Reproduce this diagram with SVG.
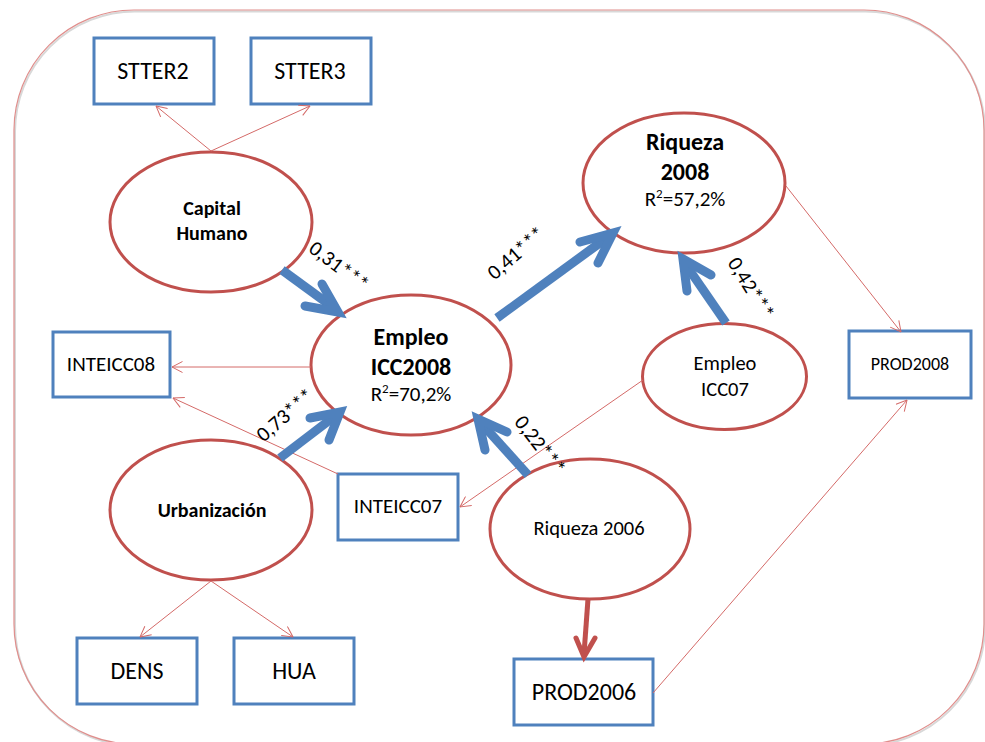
<svg xmlns="http://www.w3.org/2000/svg" width="985" height="742" viewBox="0 0 985 742">
<style>
  text { font-family: Carlito, "Liberation Sans", sans-serif; fill: #000; text-anchor: middle; }
  .box { fill: #fff; stroke: #4f81bd; stroke-width: 3; }
  .ell { fill: #fff; stroke: #c0504d; stroke-width: 3; }
  .thin { fill: none; stroke: #d46a68; stroke-width: 1; marker-end: url(#openhead); }
  .bshaft { fill: none; stroke: #4f81bd; stroke-width: 9; stroke-linecap: butt; }
  .bhead { fill: none; stroke: #4f81bd; stroke-width: 9; stroke-linecap: round; stroke-linejoin: miter; }
  .rshaft { fill: none; stroke: #c0504d; stroke-width: 5; }
  .rhead { fill: none; stroke: #c0504d; stroke-width: 5; stroke-linecap: round; stroke-linejoin: miter; }
  .b { font-weight: bold; }
  .lbl { font-size: 21px; }
</style>
<defs>
  <marker id="openhead" viewBox="0 0 12 12" refX="11.5" refY="6" markerWidth="12" markerHeight="12" markerUnits="userSpaceOnUse" orient="auto">
    <path d="M1,0.5 L11.5,6 L1,11.5" fill="none" stroke="#d46a68" stroke-width="1"/>
  </marker>
</defs>
<rect width="985" height="742" fill="#fff"/>
<g id="frame">
  <rect x="15" y="11.5" width="970" height="734" rx="120" ry="120" fill="none" stroke="#d8d8d8" stroke-width="2"/>
  <rect x="14" y="10" width="970" height="734" rx="120" ry="120" fill="none" stroke="#e08e8c" stroke-width="1.2"/>
</g>

<g id="STTER2"><rect class="box" x="94" y="38" width="120" height="66"/><text x="153" y="79" font-size="24">STTER2</text></g>
<g id="STTER3"><rect class="box" x="251" y="38" width="120" height="66"/><text x="310" y="79" font-size="24">STTER3</text></g>
<g id="INTEICC08"><rect class="box" x="53" y="332" width="117" height="65"/><text x="111" y="371" font-size="21">INTEICC08</text></g>
<g id="INTEICC07"><rect class="box" x="338" y="474" width="120" height="66"/><text x="398" y="513" font-size="21">INTEICC07</text></g>
<g id="DENS"><rect class="box" x="77" y="638" width="120" height="66"/><text x="137" y="679" font-size="24">DENS</text></g>
<g id="HUA"><rect class="box" x="234" y="638" width="120" height="66"/><text x="294" y="679" font-size="24">HUA</text></g>
<g id="PROD2006"><rect class="box" x="514" y="659" width="139" height="66"/><text x="584" y="700" font-size="24">PROD2006</text></g>
<g id="PROD2008"><rect class="box" x="849" y="331" width="122" height="67"/><text x="910" y="370" font-size="18">PROD2008</text></g>

<g id="CapitalHumano"><ellipse class="ell" cx="211" cy="222" rx="101" ry="70"/>
  <text class="b" x="212" y="215" font-size="20">Capital</text><text class="b" x="212" y="240" font-size="20">Humano</text></g>
<g id="EmpleoICC2008"><ellipse class="ell" cx="411" cy="365" rx="100" ry="70"/>
  <text class="b" x="411" y="345" font-size="24">Empleo</text><text class="b" x="411" y="375" font-size="24">ICC2008</text>
  <text x="411" y="401" font-size="21">R<tspan font-size="13" dy="-8">2</tspan><tspan dy="8">=70,2%</tspan></text></g>
<g id="Urbanizacion"><ellipse class="ell" cx="211" cy="510" rx="101" ry="70"/>
  <text class="b" x="212" y="517" font-size="20">Urbanización</text></g>
<g id="Riqueza2006"><ellipse class="ell" cx="590" cy="529" rx="100" ry="70"/>
  <text x="589" y="535" font-size="20.5">Riqueza 2006</text></g>
<g id="Riqueza2008"><ellipse class="ell" cx="684" cy="183" rx="101" ry="70"/>
  <text class="b" x="685" y="150" font-size="24">Riqueza</text><text class="b" x="685" y="180" font-size="24">2008</text>
  <text x="685" y="206" font-size="21">R<tspan font-size="13" dy="-8">2</tspan><tspan dy="8">=57,2%</tspan></text></g>
<g id="EmpleoICC07"><ellipse class="ell" cx="724.5" cy="376.5" rx="82" ry="53"/>
  <text x="725" y="370" font-size="20.5">Empleo</text><text x="725" y="396" font-size="20.5">ICC07</text></g>

<g id="connectors">
  <line class="thin" x1="211" y1="151" x2="156" y2="106"/>
  <line class="thin" x1="211" y1="151" x2="310" y2="106"/>
  <line class="thin" x1="311" y1="367" x2="172" y2="367"/>
  <line class="thin" x1="338" y1="474" x2="173" y2="398"/>
  <line class="thin" x1="643" y1="380" x2="460" y2="507"/>
  <line class="thin" x1="211" y1="581" x2="140" y2="637"/>
  <line class="thin" x1="211" y1="581" x2="293" y2="637"/>
  <line class="thin" x1="786" y1="186" x2="901" y2="332"/>
  <line class="thin" x1="653" y1="693" x2="907" y2="400"/>

  <path class="bshaft" d="M282,270 L334,308"/>
  <path class="bhead" d="M322,284 L338,312 L305,306"/>
  <path class="bshaft" d="M280,458 L335,416"/>
  <path class="bhead" d="M310,418 L340,412 L329,440"/>
  <path class="bshaft" d="M497,318 L608,237"/>
  <path class="bhead" d="M580,242 L613,233 L598,263"/>
  <path class="bshaft" d="M726,323 L686,265"/>
  <path class="bhead" d="M687,291 L683,259 L711,275"/>
  <path class="bshaft" d="M528,475 L482,424"/>
  <path class="bhead" d="M485,450 L478,419 L507,432"/>
  <path class="rshaft" d="M588,599 L584,654"/>
  <path class="rhead" d="M576,638 L584,657 L595,638"/>

  <text class="lbl" transform="translate(339,266) rotate(37)" y="7">0,31***</text>
  <text class="lbl" transform="translate(285,415) rotate(-41)" y="7">0,73***</text>
  <text class="lbl" transform="translate(516,253) rotate(-41)" y="7">0,41***</text>
  <text class="lbl" transform="translate(751,288) rotate(58)" y="7">0,42***</text>
  <text class="lbl" transform="translate(540,445) rotate(52)" y="7">0,22***</text>
</g>
</svg>
